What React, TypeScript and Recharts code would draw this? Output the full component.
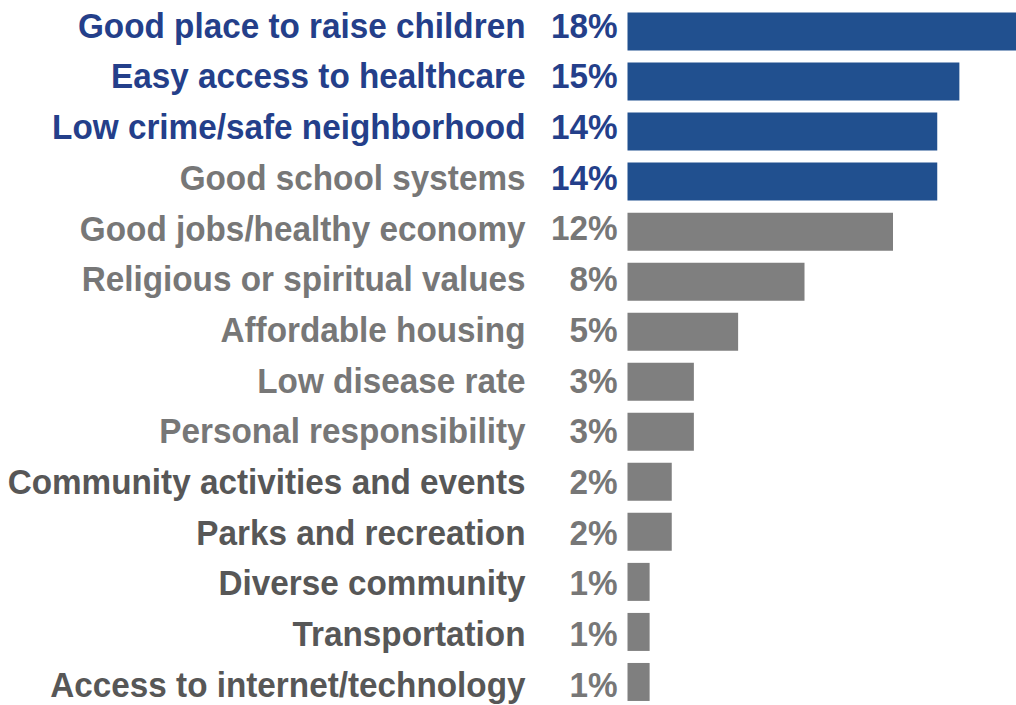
import React from "react";
import { BarChart, Bar, XAxis, YAxis, Cell, LabelList } from "recharts";

// ── Data ──────────────────────────────────────────────────────────────────────

const categories = [
  "Good place to raise children",
  "Easy access to healthcare",
  "Low crime/safe neighborhood",
  "Good school systems",
  "Good jobs/healthy economy",
  "Religious or spiritual values",
  "Affordable housing",
  "Low disease rate",
  "Personal responsibility",
  "Community activities and events",
  "Parks and recreation",
  "Diverse community",
  "Transportation",
  "Access to internet/technology",
];

const shares = [18, 15, 14, 14, 12, 8, 5, 3, 3, 2, 2, 1, 1, 1];

const data = categories.map((name, i) => ({ name, value: shares[i] }));

// ── Styling ───────────────────────────────────────────────────────────────────

const BLUE_BAR = "#21508F";
const BLUE_TEXT = "#243F8A";
const GRAY_BAR = "#7F7F7F";
const GRAY_TEXT = "#777777";
const DARK_TEXT = "#575757";

const HIGHLIGHT_BARS = 4; // bars + percent labels in blue
const BLUE_LABELS = 3; // category labels in blue
const DARK_FROM = 9; // lower rows use darker label grey

const FONT = "'Liberation Sans', Arial, sans-serif";
const SQUEEZE = 0.925; // condensed look of the original text

// the text rows in the original are spaced a touch wider than the bars
const baselineShift = (i: number) => 6.2 + 0.66 * i;

function labelColor(i: number) {
  if (i < BLUE_LABELS) return BLUE_TEXT;
  if (i >= DARK_FROM) return DARK_TEXT;
  return GRAY_TEXT;
}

// ── Ticks / labels ────────────────────────────────────────────────────────────

function CategoryTick(props: any) {
  const { x, y, payload, index } = props;
  return (
    <text
      transform={`translate(${x - 102},${y + baselineShift(index)}) scale(${SQUEEZE},1)`}
      textAnchor="end"
      fontFamily={FONT}
      fontWeight="bold"
      fontSize={36}
      fill={labelColor(index)}
    >
      {payload.value}
    </text>
  );
}

function PercentLabel(props: any) {
  const { x, y, height, value, index } = props;
  return (
    <text
      transform={`translate(${x - 10},${y + height / 2 + baselineShift(index)}) scale(${SQUEEZE},1)`}
      textAnchor="end"
      fontFamily={FONT}
      fontWeight="bold"
      fontSize={36}
      fill={index < HIGHLIGHT_BARS ? BLUE_TEXT : GRAY_TEXT}
    >
      {`${value}%`}
    </text>
  );
}

// ── App ───────────────────────────────────────────────────────────────────────

export default function App() {
  return (
    <div
      style={{
        position: "absolute",
        left: 0,
        top: 0,
        width: 1016,
        height: 705,
        overflow: "hidden",
        background: "#fff",
      }}
    >
      <BarChart
        width={1070}
        height={720}
        data={data}
        layout="vertical"
        margin={{ top: 6.5, right: 0, bottom: 13, left: 0 }}
      >
        <XAxis type="number" domain={[0, 20]} hide />
        <YAxis
          type="category"
          dataKey="name"
          width={627.5}
          axisLine={false}
          tickLine={false}
          tickSize={0}
          tickMargin={0}
          interval={0}
          tick={<CategoryTick />}
        />
        <Bar dataKey="value" barSize={38} isAnimationActive={false}>
          {data.map((_, i) => (
            <Cell key={i} fill={i < HIGHLIGHT_BARS ? BLUE_BAR : GRAY_BAR} />
          ))}
          <LabelList dataKey="value" content={<PercentLabel />} />
        </Bar>
      </BarChart>
    </div>
  );
}
